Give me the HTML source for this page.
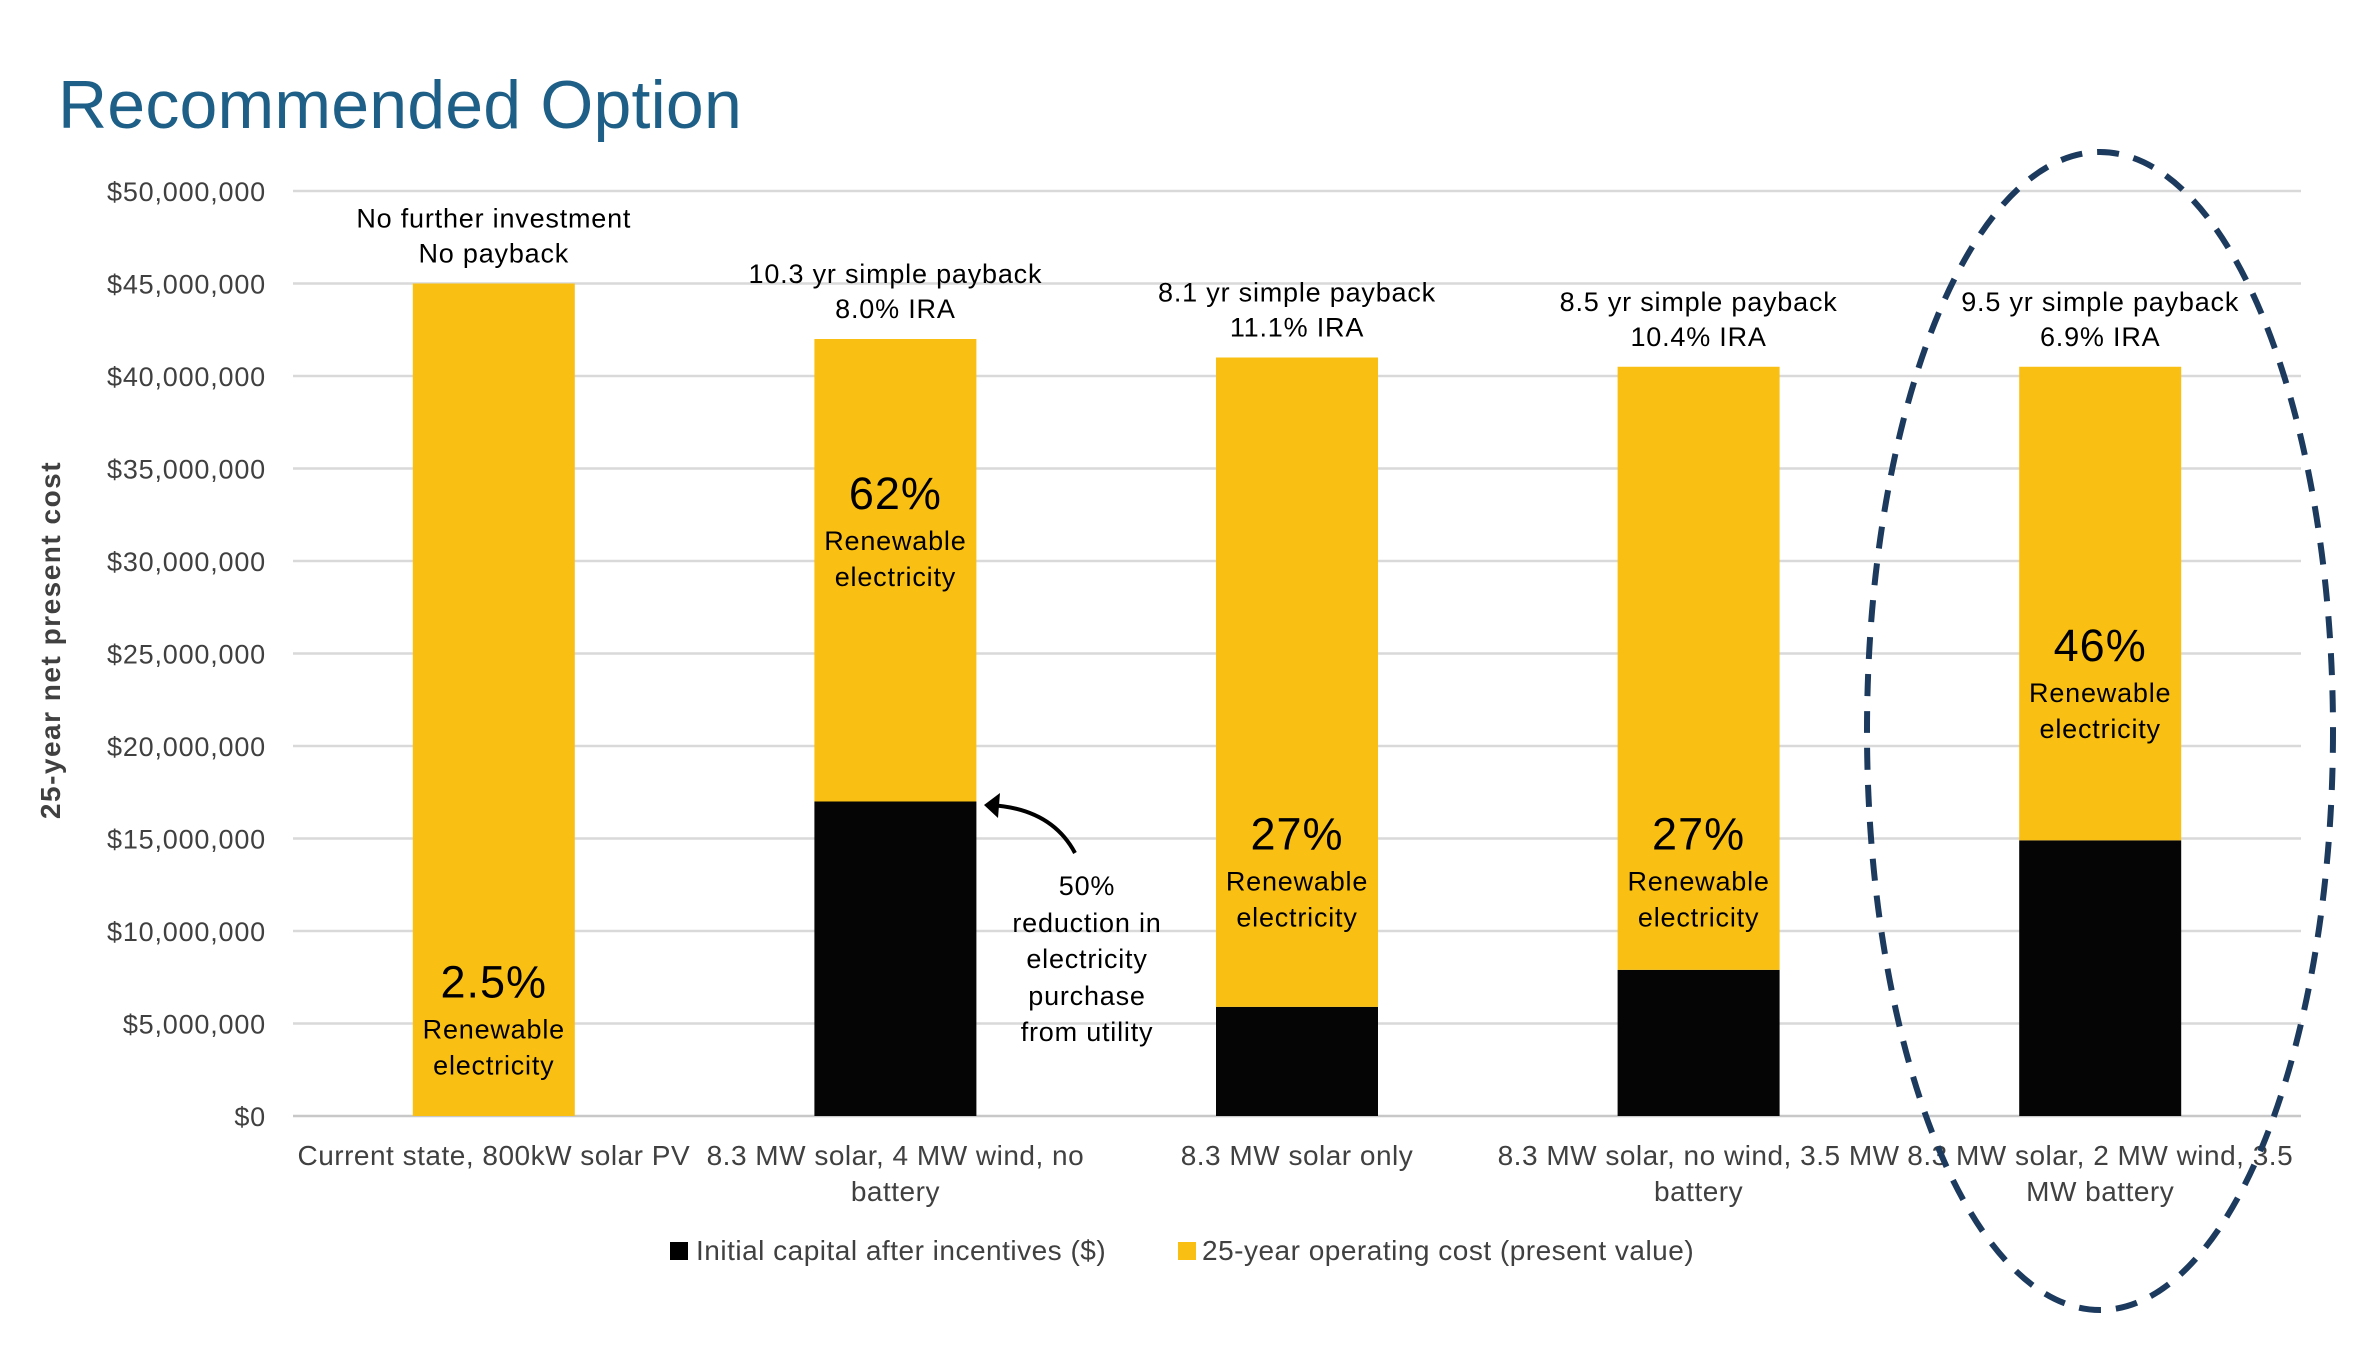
<!DOCTYPE html>
<html><head><meta charset="utf-8"><style>
html,body{margin:0;padding:0;background:#fff;}
svg{display:block;font-family:"Liberation Sans",sans-serif;}
</style></head><body>
<svg id="c" width="2378" height="1350" viewBox="0 0 2378 1350" xmlns="http://www.w3.org/2000/svg">
<text x="58" y="128" font-size="68" letter-spacing="0.2" fill="#1d5f87">Recommended Option</text>
<text transform="translate(60,640) rotate(-90)" text-anchor="middle" font-size="28" letter-spacing="1.5" font-weight="bold" fill="#404040">25-year net present cost</text>
<g id="grid"></g><g id="bars"></g><g id="labels"></g>
<path d="M1075,853 Q1051,808 989,805" fill="none" stroke="#000" stroke-width="4"/>
<polygon points="984,805 1000,793 998,818" fill="#000"/>
<g font-size="27" letter-spacing="0.8" text-anchor="middle" fill="#000">
<text x="1087" y="895">50%</text><text x="1087" y="932">reduction in</text><text x="1087" y="968">electricity</text><text x="1087" y="1005">purchase</text><text x="1087" y="1041">from utility</text></g>
<ellipse cx="2100" cy="731" rx="233" ry="579" fill="none" stroke="#1c3a5e" stroke-width="6" stroke-dasharray="22 15"/>
<rect x="670" y="1242" width="18" height="18" fill="#000"/>
<text x="696" y="1260" font-size="28" letter-spacing="0.5" fill="#404040">Initial capital after incentives ($)</text>
<rect x="1178" y="1242" width="18" height="18" fill="#f9c013"/>
<text x="1202" y="1260" font-size="28" letter-spacing="0.5" fill="#404040">25-year operating cost  (present value)</text>
</svg>
<script>
const categories1=["Current state, 800kW solar PV","8.3 MW solar, 4 MW wind, no","8.3 MW solar only","8.3 MW solar, no wind, 3.5 MW","8.3 MW solar, 2 MW wind, 3.5"];
const categories2=["","battery","","battery","MW battery"];
const capital=[0,17,5.9,7.9,14.9];
const operating=[45,25,35.1,32.6,25.6];
const yTicks=[0,5,10,15,20,25,30,35,40,45,50];
const topNotes1=["No further investment","10.3 yr simple payback","8.1 yr simple payback","8.5 yr simple payback","9.5 yr simple payback"];
const topNotes2=["No payback","8.0% IRA","11.1% IRA","10.4% IRA","6.9% IRA"];
const renewPct=["2.5%","62%","27%","27%","46%"];
const renewPos=[6.4,32.8,14.4,14.4,24.6];
const NS="http://www.w3.org/2000/svg";
const x0=293,x1=2301,yB=1116,yT=191,maxV=50;
const band=(x1-x0)/categories1.length,bw=162;
function y(v){return yB-(v/maxV)*(yB-yT);}
function cx(i){return x0+band*(i+0.5);}
function mk(tag,attrs,parent,txt){const e=document.createElementNS(NS,tag);for(const k in attrs)e.setAttribute(k,attrs[k]);if(txt!==undefined)e.textContent=txt;parent.appendChild(e);return e;}
const g=document.getElementById('grid'),b=document.getElementById('bars'),l=document.getElementById('labels');
yTicks.forEach(t=>{
 const ln=mk('line',{x1:x0,x2:x1,y1:y(t),y2:y(t),stroke:t===0?'#c8c8c8':'#d9d9d9','stroke-width':2.5},g);
 
 
 const tx=mk('text',{x:266,y:y(t)+10,'text-anchor':'end','font-size':27,'letter-spacing':0.8,fill:'#404040'},g,'$'+(t*1000000).toLocaleString('en-US'));
 
 
});
categories1.forEach((c,i)=>{
 const c0=cx(i),tot=capital[i]+operating[i];
 const r1=mk('rect',{x:c0-bw/2,y:y(capital[i]),width:bw,height:yB-y(capital[i]),fill:'#050505'},b);
 
 
 const r2=mk('rect',{x:c0-bw/2,y:y(tot),width:bw,height:y(capital[i])-y(tot),fill:'#f9c013'},b);
 
 
 const a=mk('text',{x:c0,y:y(tot)-56,'text-anchor':'middle','font-size':27,'letter-spacing':0.8,fill:'#000'},l,topNotes1[i]);
 
 
 const a2=mk('text',{x:c0,y:y(tot)-21,'text-anchor':'middle','font-size':27,'letter-spacing':0.8,fill:'#000'},l,topNotes2[i]);
 
 
 const py=y(renewPos[i]);
 const p=mk('text',{x:c0,y:py,'text-anchor':'middle','font-size':45,'letter-spacing':1,fill:'#000'},l,renewPct[i]);
 
 
 const p2=mk('text',{x:c0,y:py+41,'text-anchor':'middle','font-size':27,'letter-spacing':0.8,fill:'#000'},l,'Renewable');
 
 
 const p3=mk('text',{x:c0,y:py+77,'text-anchor':'middle','font-size':27,'letter-spacing':0.8,fill:'#000'},l,'electricity');
 
 
 const k1=mk('text',{x:c0,y:1165,'text-anchor':'middle','font-size':28,'letter-spacing':0.5,fill:'#404040'},l,c);
 
 
 const k2=mk('text',{x:c0,y:1201,'text-anchor':'middle','font-size':28,'letter-spacing':0.5,fill:'#404040'},l,categories2[i]);
 
 
});
</script>
</body></html>
